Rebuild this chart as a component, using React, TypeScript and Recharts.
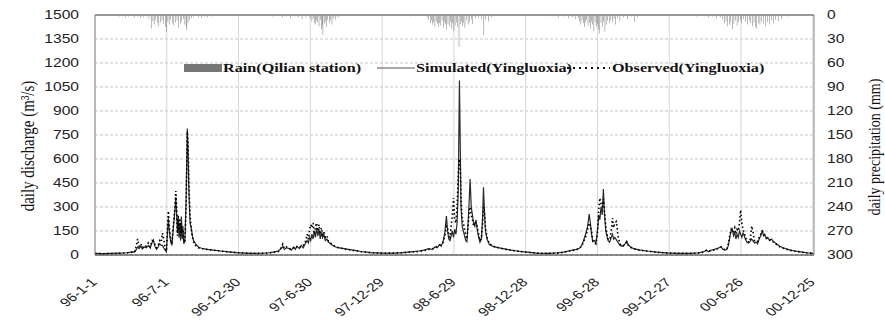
import React from 'react';
import { ComposedChart, Line, Bar, XAxis, YAxis, CartesianGrid, ReferenceLine } from 'recharts';

// day index counted from 96-1-1
const flowDays = [
  0, 20, 40, 60, 80, 95, 100, 105, 108, 112, 116, 120, 125, 130, 135, 140, 145, 148, 152, 156, 160, 164, 168, 171, 174, 178, 181, 184, 186, 189, 192, 195, 198, 202, 205, 207, 209, 211, 213, 215, 217, 219, 221, 223, 225, 228, 231, 234, 236, 238, 241, 244, 247, 250, 255, 262, 270, 285, 300, 320, 340, 360, 380, 400, 420, 440, 455, 465, 472, 476, 480, 486, 492, 498, 504, 508, 512, 518, 523, 528, 533, 538, 541, 544, 547, 550, 553, 556, 559, 562, 565, 568, 571, 574, 577, 580, 584, 588, 592, 597, 603, 610, 620, 635, 655, 675, 700, 730, 760, 780, 800, 820, 835, 845, 855, 862, 868, 873, 878, 883, 887, 891, 894, 897, 900, 903, 906, 909, 912, 915, 918, 921, 924, 926, 928, 931, 934, 937, 940, 943, 946, 949, 951, 954, 957, 960, 963, 966, 969, 972, 976, 980, 983, 985, 987, 990, 994, 1000, 1010, 1025, 1045, 1070, 1095, 1120, 1150, 1175, 1190, 1200, 1210, 1220, 1228, 1234, 1240, 1245, 1249, 1253, 1256, 1259, 1262, 1266, 1270, 1274, 1277, 1280, 1283, 1286, 1289, 1292, 1295, 1298, 1301, 1305, 1309, 1312, 1315, 1318, 1322, 1326, 1331, 1338, 1344, 1348, 1352, 1358, 1365, 1380, 1400, 1425, 1450, 1480, 1510, 1530, 1545, 1550, 1555, 1562, 1570, 1577, 1582, 1587, 1592, 1598, 1602, 1606, 1610, 1613, 1616, 1619, 1622, 1625, 1628, 1631, 1634, 1637, 1640, 1643, 1646, 1649, 1653, 1657, 1661, 1665, 1668, 1672, 1676, 1680, 1684, 1688, 1692, 1695, 1698, 1702, 1706, 1710, 1715, 1720, 1728, 1736, 1745, 1760, 1775, 1790, 1805, 1822,
];
const simulated = [
  10, 9, 10, 12, 14, 20, 18, 35, 50, 40, 55, 38, 50, 45, 60, 45, 80, 94, 55, 35, 50, 70, 60, 60, 45, 30, 20, 150, 230, 130, 80, 60, 150, 260, 363, 250, 140, 230, 110, 200, 90, 240, 100, 180, 70, 90, 350, 790, 650, 400, 200, 170, 120, 90, 70, 50, 42, 35, 30, 25, 20, 15, 12, 10, 11, 14, 20, 25, 40, 55, 35, 45, 40, 30, 50, 35, 55, 40, 60, 45, 70, 90, 75, 110, 90, 130, 100, 150, 110, 170, 120, 160, 100, 140, 110, 130, 90, 100, 80, 70, 60, 50, 45, 38, 30, 22, 15, 12, 12, 15, 20, 25, 30, 40, 35, 50, 45, 65, 55, 90, 140, 244, 150, 100, 90, 120, 150, 110, 160, 130, 200, 400, 1090, 700, 300, 180, 150, 120, 90, 83, 200, 350, 475, 300, 250, 200, 180, 220, 160, 120, 80, 100, 250, 423, 300, 150, 100, 65, 52, 45, 35, 25, 18, 12, 10, 14, 20, 25, 30, 35, 42, 60, 100, 140, 180, 256, 200, 130, 83, 90, 75, 150, 250, 220, 300, 250, 412, 250, 150, 120, 90, 80, 110, 130, 100, 110, 95, 80, 60, 55, 70, 87, 65, 50, 40, 32, 25, 18, 13, 10, 10, 14, 22, 31, 20, 30, 35, 40, 45, 52, 35, 30, 35, 60, 120, 150, 162, 120, 140, 100, 130, 110, 150, 130, 110, 137, 120, 100, 80, 75, 85, 100, 90, 75, 80, 70, 100, 120, 156, 120, 130, 100, 110, 90, 100, 85, 70, 55, 45, 32, 25, 20, 14, 10,
];
const observed = [
  9, 8, 9, 10, 12, 18, 16, 60, 100, 55, 70, 45, 60, 55, 75, 50, 90, 85, 65, 45, 60, 90, 80, 137, 100, 40, 25, 180, 275, 160, 100, 70, 170, 280, 400, 300, 120, 250, 150, 230, 120, 200, 140, 160, 90, 80, 300, 770, 700, 450, 250, 160, 110, 80, 60, 45, 40, 34, 30, 24, 18, 14, 12, 11, 10, 12, 18, 22, 45, 68, 40, 50, 42, 35, 45, 40, 50, 45, 55, 60, 80, 130, 100, 160, 190, 170, 200, 130, 180, 200, 150, 190, 130, 170, 120, 150, 110, 120, 85, 75, 65, 50, 44, 36, 28, 20, 14, 11, 12, 14, 18, 22, 28, 35, 38, 45, 55, 60, 70, 80, 120, 180, 170, 120, 110, 180, 250, 356, 220, 200, 300, 500, 600, 550, 350, 220, 200, 160, 120, 100, 180, 280, 300, 250, 220, 180, 210, 200, 180, 140, 90, 120, 200, 300, 280, 170, 110, 70, 55, 44, 33, 24, 17, 12, 10, 12, 18, 22, 28, 32, 40, 55, 90, 120, 160, 200, 180, 150, 90, 80, 70, 140, 280, 356, 320, 300, 350, 260, 180, 130, 100, 95, 150, 230, 170, 200, 210, 120, 70, 55, 65, 80, 60, 48, 40, 30, 24, 17, 12, 10, 10, 12, 20, 28, 22, 28, 32, 38, 44, 50, 40, 32, 34, 70, 130, 160, 140, 150, 170, 130, 160, 150, 200, 281, 200, 160, 140, 110, 90, 80, 90, 181, 150, 90, 95, 85, 110, 130, 150, 140, 120, 110, 105, 95, 95, 80, 65, 52, 42, 30, 24, 18, 13, 10,
];

const rainDays = [
  63, 70, 78, 85, 92, 100, 108, 115, 122, 130, 137, 144, 147, 150, 154, 158, 162, 166, 170, 174, 178, 182, 185, 188, 192, 196, 200, 204, 208, 212, 216, 220, 224, 228, 231, 233, 236, 240, 245, 250, 262, 270, 278, 285, 295, 310,
  436, 450, 462, 475, 485, 495, 505, 515, 525, 535, 545, 550, 553, 556, 559, 562, 565, 568, 571, 574, 576, 578, 581, 584, 587, 590, 594, 597, 601, 605, 610, 616, 621,
  780, 800, 820, 842, 846, 850, 853, 856, 859, 862, 865, 868, 871, 874, 877, 880, 883, 886, 889, 892, 895, 898, 901, 904, 907, 910, 913, 916, 919, 923, 926, 929, 932, 935, 938, 942, 946, 950, 954, 958, 965, 972, 980, 986, 990, 998, 1005,
  1146, 1160, 1175, 1190, 1200, 1210, 1218, 1225, 1229, 1232, 1235, 1238, 1241, 1244, 1247, 1250, 1253, 1256, 1259, 1262, 1265, 1268, 1271, 1274, 1277, 1280, 1283, 1286, 1290, 1293, 1296, 1300, 1304, 1308, 1312, 1316, 1320, 1325, 1331, 1340, 1350, 1360, 1368, 1376,
  1508, 1525, 1540, 1555, 1565, 1575, 1585, 1592, 1596, 1600, 1604, 1608, 1612, 1617, 1620, 1624, 1628, 1632, 1636, 1640, 1645, 1650, 1655, 1659, 1663, 1667, 1671, 1675, 1678, 1682, 1686, 1690, 1695, 1700, 1705, 1710, 1715, 1720, 1726, 1732, 1741, 1755,
];
const rainMm = [
  2, 1.5, 3, 2, 1, 3, 2, 4, 3, 2, 5, 17, 8, 12, 6, 10, 14, 9, 7, 11, 15, 21, 8, 12, 6, 10, 13, 9, 7, 16, 11, 8, 5, 12, 15, 19.5, 10, 6, 4, 2, 3, 4, 2, 3, 2, 1.5,
  1.5, 2, 1, 3, 2, 4, 2, 3, 5, 3, 4, 8, 5, 10, 12, 7, 9, 14, 6, 18, 13, 25, 11, 8, 15, 6, 10, 7, 12, 4, 6, 3, 2,
  1, 2, 1.5, 3, 6, 10, 7, 12, 9, 14, 8, 11, 15, 10, 13, 7, 16, 9, 12, 18, 11, 14, 8, 17, 10, 20, 13, 9, 15, 40, 12, 8, 14, 10, 16, 7, 12, 9, 6, 11, 4, 3, 5, 25, 6, 8, 3,
  2, 1.5, 3, 2, 4, 3, 5, 4, 8, 12, 7, 10, 15, 9, 6, 13, 10, 17, 8, 12, 20, 9, 14, 11, 18, 23, 10, 15, 8, 21, 12, 7, 10, 6, 9, 5, 12, 4, 8, 3, 5, 2, 9, 3,
  1.5, 2, 1, 3, 2, 4, 3, 6, 10, 8, 14, 12, 9, 17.5, 11, 7, 13, 9, 6, 10, 5, 8, 12, 7, 10, 14, 9, 15, 17, 10, 12, 8, 11, 14, 9, 12, 7, 10, 6, 8, 5, 2,
];

const xTickDays = [0, 182, 364, 546, 728, 910, 1092, 1274, 1456, 1638, 1820];
const xTickLabels = ['96-1-1', '96-7-1', '96-12-30', '97-6-30', '97-12-29', '98-6-29', '98-12-28', '99-6-28', '99-12-27', '00-6-26', '00-12-25'];
const dischargeTicks = [0, 150, 300, 450, 600, 750, 900, 1050, 1200, 1350, 1500];
const precipTicks = [0, 30, 60, 90, 120, 150, 180, 210, 240, 270, 300];

const SX = 1.3;
const SANS = "'Liberation Sans', Arial, sans-serif";
const SERIF = "'Liberation Serif', 'Times New Roman', serif";

function buildTable() {
  const map = new Map<number, any>();
  flowDays.forEach((d, i) => {
    const r = map.get(d) || { day: d };
    r.sim = simulated[i];
    r.obs = observed[i];
    map.set(d, r);
  });
  rainDays.forEach((d, i) => {
    const r = map.get(d) || { day: d };
    r.rain = rainMm[i];
    map.set(d, r);
  });
  return Array.from(map.values()).sort((a, b) => a.day - b.day);
}
const table = buildTable();

const XTick = (props: any) => {
  const { x, y, payload } = props;
  const idx = xTickDays.indexOf(payload.value);
  return (
    <text
      transform={`translate(${x + 3},${y + 20}) scale(${SX},1) rotate(-45)`}
      textAnchor="end"
      fontSize={12}
      fontFamily={SANS}
      fill="#222"
    >
      {xTickLabels[idx]}
    </text>
  );
};

const LeftTick = (props: any) => {
  const { x, y, payload } = props;
  return (
    <text transform={`translate(${x},${y}) scale(${SX},1)`} textAnchor="end" dy={4} fontSize={12} fontFamily={SANS} fill="#222">
      {payload.value}
    </text>
  );
};

const RightTick = (props: any) => {
  const { x, y, payload } = props;
  return (
    <text transform={`translate(${x},${y}) scale(${SX},1)`} textAnchor="start" dy={4} fontSize={12} fontFamily={SANS} fill="#222">
      {payload.value}
    </text>
  );
};

export default function App() {
  return (
    <div style={{ position: 'absolute', left: 0, top: 0, width: 885, height: 321, background: '#fff' }}>
      <ComposedChart width={885} height={321} data={table} margin={{ top: 15, right: 0, bottom: 0, left: 0 }}>
        <CartesianGrid yAxisId="left" vertical={false} stroke="#c4c4c4" strokeDasharray="3 2" />
        <CartesianGrid yAxisId="left" horizontal={false} stroke="#d6d6d6" />
        <XAxis
          type="number"
          dataKey="day"
          domain={[0, 1823]}
          ticks={xTickDays}
          interval={0}
          height={66}
          tickLine={false}
          tickSize={6}
          tickMargin={2}
          axisLine={{ stroke: '#222', strokeWidth: 1.2 }}
          tick={<XTick />}
        />
        <YAxis
          yAxisId="left"
          domain={[0, 1500]}
          ticks={dischargeTicks}
          interval={0}
          width={95}
          tickLine={false}
          tickSize={6}
          tickMargin={10}
          axisLine={{ stroke: '#888' }}
          tick={<LeftTick />}
        />
        <YAxis
          yAxisId="right"
          orientation="right"
          reversed
          domain={[0, 300]}
          ticks={precipTicks}
          interval={0}
          width={71}
          tickLine={false}
          tickSize={6}
          tickMargin={7}
          axisLine={{ stroke: '#999' }}
          tick={<RightTick />}
        />
        <ReferenceLine yAxisId="left" y={1500} stroke="#999" strokeWidth={2} />
        <Bar yAxisId="right" dataKey="rain" fill="#3c3c3c" barSize={1.2} isAnimationActive={false} />
        <Line yAxisId="left" type="linear" dataKey="sim" stroke="#2a2a2a" strokeWidth={1.2} dot={false} connectNulls isAnimationActive={false} />
        <Line yAxisId="left" type="linear" dataKey="obs" stroke="#000" strokeWidth={1.6} strokeDasharray="1.5 2.5" dot={false} connectNulls isAnimationActive={false} />
      </ComposedChart>
      <svg width={885} height={321} style={{ position: 'absolute', left: 0, top: 0, pointerEvents: 'none' }}>
        <text transform={`translate(27,146) scale(${SX},1) rotate(-90)`} textAnchor="middle" dy={5} fontSize={15} fontFamily={SERIF} fill="#111">
          daily discharge  (m³/s)
        </text>
        <text transform={`translate(874,147) scale(1.15,1) rotate(-90)`} textAnchor="middle" dy={5} fontSize={14} fontFamily={SERIF} fill="#111">
          daily precipitation  (mm)
        </text>
        <rect x={184} y={64} width={38} height={8} fill="#777" />
        <text transform={`translate(223,72) scale(1.35,1)`} fontSize={12} fontWeight="bold" fontFamily={SERIF} fill="#111">
          Rain(Qilian station)
        </text>
        <line x1={377} y1={68} x2={415} y2={68} stroke="#555" strokeWidth={1} />
        <text transform={`translate(416,72) scale(1.35,1)`} fontSize={12} fontWeight="bold" fontFamily={SERIF} fill="#111">
          Simulated(Yingluoxia)
        </text>
        <line x1={567} y1={68} x2={610} y2={68} stroke="#111" strokeWidth={2} strokeDasharray="2 4" />
        <text transform={`translate(612,72) scale(1.35,1)`} fontSize={12} fontWeight="bold" fontFamily={SERIF} fill="#111">
          Observed(Yingluoxia)
        </text>
      </svg>
    </div>
  );
}
